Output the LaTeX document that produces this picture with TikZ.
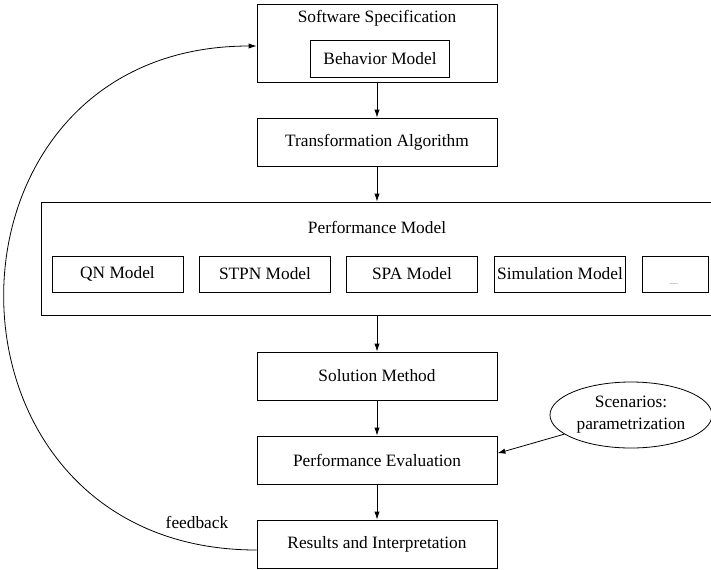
\documentclass[tikz,border=0pt]{standalone}
\usepackage{fontspec}
\setmainfont{Liberation Serif}
\usetikzlibrary{arrows.meta,shapes.geometric}

\begin{document}
\begin{tikzpicture}[x=0.75pt,y=-0.75pt,
    every node/.style={font=\fontsize{13}{15.5}\selectfont},
    stage/.style={draw,line width=0.6pt,minimum width=180pt,minimum height=36pt,inner sep=0pt},
    model/.style={draw,line width=0.6pt,minimum width=98.25pt,minimum height=27pt,inner sep=0pt},
    flow/.style={-{Latex[length=6pt,width=4pt]},line width=0.6pt}]
\useasboundingbox (0,0) rectangle (711,569);

% specification
\node[stage,minimum height=58.5pt] (spec) at (377,43) {};
\node (spectitle) at (377,18) {Software Specification};
\node[draw,line width=0.6pt,minimum width=104.25pt,minimum height=27.75pt,inner sep=0pt] (behav) at (380,58.5) {Behavior Model};

\node[stage] (trans) at (377,142) {Transformation Algorithm};

% performance models
\node[stage,minimum width=504pt,minimum height=84.75pt] (perf) at (377,258.5) {};
\node (perftitle) at (377,227) {Performance Model};
\node[model] (qn) at (117.5,274) {QN Model};
\node[model] (stpn) at (265,274) {STPN Model};
\node[model] (spa) at (412,274) {SPA Model};
\node[model] (sim) at (560,274) {Simulation Model};
\node[model,minimum width=49.5pt] (more) at (675,274) {};
\node[font=\fontsize{4}{4}\selectfont,inner sep=0pt] (dots) at (674,284) {......};

\node[stage] (sol) at (377,376) {Solution Method};
\node[stage] (pe) at (377,460) {Performance Evaluation};
\node[stage] (res) at (377,544) {Results and Interpretation};

\node[ellipse,draw,line width=0.6pt,minimum width=121.5pt,minimum height=49.5pt,inner sep=0pt,
      align=center,font=\fontsize{13}{16.5}\selectfont] (scen) at (631,415) {Scenarios:\\parametrization};

\node (fb) at (197,522) {feedback};

% arrows
\draw[flow] (spec) -- (trans);
\draw[flow] (trans) -- (perf);
\draw[flow] (perf) -- (sol);
\draw[flow] (sol) -- (pe);
\draw[flow] (pe) -- (res);
\draw[flow] (scen) -- ([yshift=5pt]pe.east);
\draw[flow] ([yshift=-4.5pt]res.west) .. controls +(-336,0) and +(-336,0) .. ([yshift=-2.25pt]spec.west);
\end{tikzpicture}
\end{document}
